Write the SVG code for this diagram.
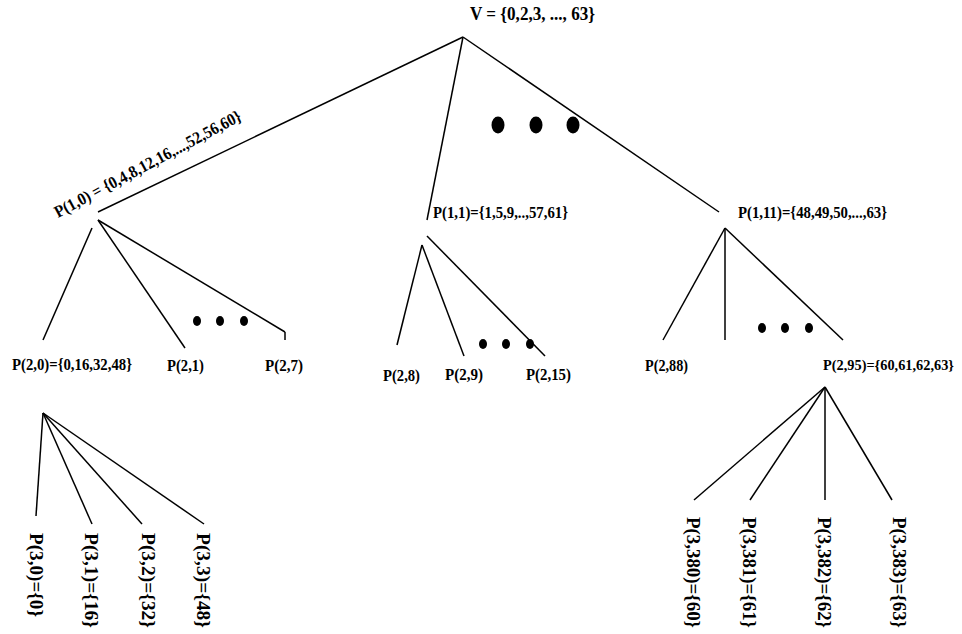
<svg xmlns="http://www.w3.org/2000/svg" width="962" height="634" viewBox="0 0 962 634">
<style>
text{font-family:"Liberation Serif","Times New Roman",serif;font-weight:bold;font-size:17px;fill:#000}
.big{font-size:19px}
.v{font-size:18px}
.s{font-size:15px}
line{stroke:#000;stroke-width:1.5}
.dot{fill:#000}
</style>
<rect width="962" height="634" fill="#fff"/>
<g id="connectors">
<line x1="463" y1="37" x2="98" y2="212"/>
<line x1="463" y1="37" x2="427" y2="220"/>
<line x1="463" y1="37" x2="719" y2="212"/>
<line x1="92" y1="228" x2="43" y2="340"/>
<line x1="98" y1="220" x2="185" y2="348"/>
<line x1="98" y1="220" x2="285" y2="332"/>
<line x1="285" y1="332" x2="285" y2="340"/>
<line x1="422" y1="245" x2="397" y2="345"/>
<line x1="422" y1="245" x2="464" y2="356"/>
<line x1="427" y1="236" x2="545" y2="356"/>
<line x1="725" y1="228" x2="663" y2="340"/>
<line x1="725" y1="228" x2="725" y2="340"/>
<line x1="725" y1="228" x2="843" y2="340"/>
<line x1="43" y1="413" x2="36" y2="516"/>
<line x1="43" y1="413" x2="92" y2="524"/>
<line x1="43" y1="413" x2="142" y2="524"/>
<line x1="43" y1="413" x2="204" y2="524"/>
<line x1="825" y1="387" x2="694" y2="500"/>
<line x1="825" y1="387" x2="750" y2="500"/>
<line x1="825" y1="387" x2="825" y2="500"/>
<line x1="825" y1="387" x2="892" y2="500"/>
</g>
<g id="ellipsis">
<ellipse class="dot" cx="498" cy="125" rx="6.5" ry="8.5"/>
<ellipse class="dot" cx="536" cy="125" rx="6.5" ry="8.5"/>
<ellipse class="dot" cx="573" cy="125" rx="6.5" ry="8.5"/>
<ellipse class="dot" cx="197" cy="321" rx="4" ry="5"/>
<ellipse class="dot" cx="220" cy="321" rx="4" ry="5"/>
<ellipse class="dot" cx="244" cy="321" rx="4" ry="5"/>
<ellipse class="dot" cx="483" cy="344" rx="4" ry="5"/>
<ellipse class="dot" cx="506" cy="344" rx="4" ry="5"/>
<ellipse class="dot" cx="530" cy="344" rx="4" ry="5"/>
<ellipse class="dot" cx="762" cy="328" rx="4" ry="5"/>
<ellipse class="dot" cx="785" cy="328" rx="4" ry="5"/>
<ellipse class="dot" cx="809" cy="328" rx="4" ry="5"/>
</g>
<g id="root"><text class="big" x="470" y="20" textLength="125" lengthAdjust="spacingAndGlyphs">V = {0,2,3, ..., 63}</text></g>
<g id="p10"><text transform="translate(58,218) rotate(-28)" textLength="209" lengthAdjust="spacingAndGlyphs">P(1,0) = {0,4,8,12,16,...,52,56,60}</text></g>
<g id="p11"><text x="433" y="218" textLength="135" lengthAdjust="spacingAndGlyphs">P(1,1)={1,5,9,..,57,61}</text></g>
<g id="p111"><text x="738" y="218" textLength="149" lengthAdjust="spacingAndGlyphs">P(1,11)={48,49,50,...,63}</text></g>
<g id="p20"><text x="12" y="370" textLength="120" lengthAdjust="spacingAndGlyphs">P(2,0)={0,16,32,48}</text></g>
<g id="p21"><text x="167" y="371" textLength="37" lengthAdjust="spacingAndGlyphs">P(2,1)</text></g>
<g id="p27"><text x="265" y="371" textLength="38" lengthAdjust="spacingAndGlyphs">P(2,7)</text></g>
<g id="p28"><text x="383" y="381" textLength="37" lengthAdjust="spacingAndGlyphs">P(2,8)</text></g>
<g id="p29"><text x="445" y="380" textLength="38" lengthAdjust="spacingAndGlyphs">P(2,9)</text></g>
<g id="p215"><text x="526" y="380" textLength="45" lengthAdjust="spacingAndGlyphs">P(2,15)</text></g>
<g id="p288"><text x="645" y="371" textLength="43" lengthAdjust="spacingAndGlyphs">P(2,88)</text></g>
<g id="p295"><text class="s" x="823" y="370" textLength="131" lengthAdjust="spacingAndGlyphs">P(2,95)={60,61,62,63}</text></g>
<g id="p30"><text class="v" transform="translate(30,533) rotate(90)" textLength="84" lengthAdjust="spacingAndGlyphs">P(3,0)={0}</text></g>
<g id="p31"><text class="v" transform="translate(85,533) rotate(90)" textLength="95" lengthAdjust="spacingAndGlyphs">P(3,1)={16}</text></g>
<g id="p32"><text class="v" transform="translate(142,533) rotate(90)" textLength="95" lengthAdjust="spacingAndGlyphs">P(3,2)={32}</text></g>
<g id="p33"><text class="v" transform="translate(197,533) rotate(90)" textLength="95" lengthAdjust="spacingAndGlyphs">P(3,3)={48}</text></g>
<g id="p3380"><text class="v" transform="translate(687,517) rotate(90)" textLength="111" lengthAdjust="spacingAndGlyphs">P(3,380)={60}</text></g>
<g id="p3381"><text class="v" transform="translate(743,517) rotate(90)" textLength="111" lengthAdjust="spacingAndGlyphs">P(3,381)={61}</text></g>
<g id="p3382"><text class="v" transform="translate(818,517) rotate(90)" textLength="111" lengthAdjust="spacingAndGlyphs">P(3,382)={62}</text></g>
<g id="p3383"><text class="v" transform="translate(893,517) rotate(90)" textLength="111" lengthAdjust="spacingAndGlyphs">P(3,383)={63}</text></g>
</svg>
